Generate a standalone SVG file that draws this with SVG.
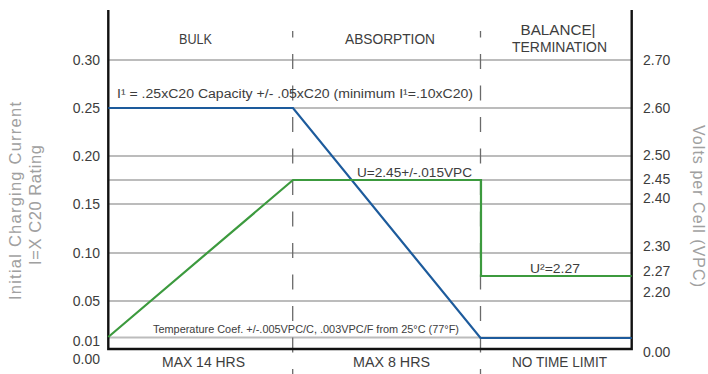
<svg xmlns="http://www.w3.org/2000/svg" width="708" height="374" viewBox="0 0 708 374">
<style>
  text { font-family: "Liberation Sans", Arial, sans-serif; fill: #3d3d3d; }
  .grid line { stroke: #bcbcbc; stroke-width: 1.8; }
  .axis { stroke: #111; stroke-width: 2.4; fill: none; }
  .dash { stroke: #6a6a6a; stroke-width: 1.3; stroke-dasharray: 15 16.5; stroke-dashoffset: 8.5; }
  .num { font-size: 14px; }
  .numl { text-anchor: end; }
  .phase { font-size: 14px; text-anchor: middle; }
  .title { font-size: 16.5px; fill: #a0a0a0; text-anchor: middle; }
  .ann { font-size: 12px; fill: #333; }
  .blue { stroke: #1d5b9c; stroke-width: 2.2; fill: none; }
  .green { stroke: #3c9a3e; stroke-width: 2.2; fill: none; }
</style>
<rect width="708" height="374" fill="#fff"/>

<g class="grid" id="grid">
  <line x1="108" y1="60" x2="632" y2="60"/>
  <line x1="108" y1="108" x2="632" y2="108"/>
  <line x1="108" y1="156" x2="632" y2="156"/>
  <line x1="108" y1="180" x2="632" y2="180"/>
  <line x1="108" y1="204" x2="632" y2="204"/>
  <line x1="108" y1="253" x2="632" y2="253"/>
  <line x1="108" y1="301" x2="632" y2="301"/>
  <line x1="108" y1="337.5" x2="632" y2="337.5"/>
</g>

<g id="phase-dividers">
  <line class="dash" x1="292.7" y1="31" x2="292.7" y2="374"/>
  <line class="dash" x1="480.5" y1="31" x2="480.5" y2="374"/>
</g>

<g id="axes">
  <path class="axis" d="M108.3 10 V349 H631.7 V10"/>
</g>

<g id="left-scale" class="num numl">
  <text x="100" y="65">0.30</text>
  <text x="100" y="113">0.25</text>
  <text x="100" y="161">0.20</text>
  <text x="100" y="209">0.15</text>
  <text x="100" y="258">0.10</text>
  <text x="100" y="306">0.05</text>
  <text x="100" y="346">0.01</text>
  <text x="100" y="364">0.00</text>
</g>

<g id="right-scale" class="num">
  <text x="643" y="65">2.70</text>
  <text x="643" y="113">2.60</text>
  <text x="643" y="160">2.50</text>
  <text x="643" y="184">2.45</text>
  <text x="643" y="203">2.40</text>
  <text x="643" y="251">2.30</text>
  <text x="643" y="276">2.27</text>
  <text x="643" y="297">2.20</text>
  <text x="643" y="357">0.00</text>
</g>

<g id="axis-titles">
  <text class="title" transform="translate(20.5 201) rotate(-90)" textLength="198" lengthAdjust="spacing">Initial Charging Current</text>
  <text class="title" transform="translate(41 205) rotate(-90)" textLength="120" lengthAdjust="spacing">I=X C20 Rating</text>
  <text class="title" style="font-size:16px" transform="translate(692.5 206) rotate(90)" textLength="162" lengthAdjust="spacing">Volts per Cell (VPC)</text>
</g>

<g id="phase-labels" class="phase">
  <text x="195.5" y="44" textLength="33" lengthAdjust="spacingAndGlyphs">BULK</text>
  <text x="390" y="44" textLength="90" lengthAdjust="spacingAndGlyphs">ABSORPTION</text>
  <text x="558" y="35" textLength="75" lengthAdjust="spacingAndGlyphs">BALANCE|</text>
  <text x="559.5" y="52" textLength="95" lengthAdjust="spacingAndGlyphs">TERMINATION</text>
  <text x="203.5" y="367" textLength="83" lengthAdjust="spacingAndGlyphs">MAX 14 HRS</text>
  <text x="391.5" y="367" textLength="77" lengthAdjust="spacingAndGlyphs">MAX 8 HRS</text>
  <text x="559.5" y="367" textLength="95" lengthAdjust="spacingAndGlyphs">NO TIME LIMIT</text>
</g>

<g id="connectors">
  <path id="current-curve" class="blue" d="M108.3 108 H293 L480.5 338 H631.7"/>
  <path id="voltage-curve" class="green" d="M108.3 337 L293 180 H481 V276 H631.7"/>
</g>

<g id="annotations" class="ann">
  <text x="117" y="98" textLength="356" lengthAdjust="spacingAndGlyphs">I¹ = .25xC20 Capacity +/- .05xC20 (minimum I¹=.10xC20)</text>
  <text x="357" y="177" textLength="115" lengthAdjust="spacingAndGlyphs">U=2.45+/-.015VPC</text>
  <text x="530" y="273" textLength="50" lengthAdjust="spacingAndGlyphs">U²=2.27</text>
  <text x="153" y="333" style="font-size:10px" textLength="306" lengthAdjust="spacingAndGlyphs">Temperature Coef. +/-.005VPC/C, .003VPC/F from 25°C (77°F)</text>
</g>
</svg>
